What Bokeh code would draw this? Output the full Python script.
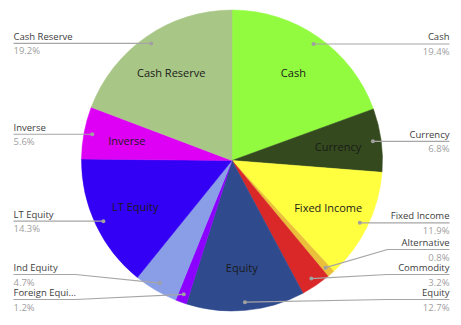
import math
from bokeh.plotting import figure
from bokeh.models import Range1d, ColumnDataSource
from bokeh.core.properties import value
from bokeh.embed import file_html
from bokeh.resources import INLINE

# ---- data ----
categories = ["Cash", "Currency", "Fixed Income", "Alternative", "Commodity", "Equity",
              "Foreign Equity", "Ind Equity", "LT Equity", "Inverse", "Cash Reserve"]
outer_labels = ["Cash", "Currency", "Fixed Income", "Alternative", "Commodity", "Equity",
                "Foreign Equi...", "Ind Equity", "LT Equity", "Inverse", "Cash Reserve"]
shares = [19.4, 6.8, 11.9, 0.8, 3.2, 12.7, 1.2, 4.7, 14.3, 5.6, 19.2]
colors = ["#92FB3F", "#344A1E", "#FFFF3F", "#EABF3A", "#DA2727", "#2F4B8E",
          "#8B00FF", "#8A9EE8", "#3300F5", "#DD00F5", "#A8C686"]

# ---- layout ----
W, H = 461, 325
CX, CY, R = 231.5, 160.0, 150.5      # pixel coords (y down)
R_DOT = 0.945 * R
R_IN = 107.0
LEFT_EDGE, RIGHT_EDGE = 13, 449
LEFT_ELBOW, RIGHT_ELBOW = 75, 387
BOTTOM = 299
SPACING = 25
FONT = value("Open Sans")

total = sum(shares)
starts, ends, mids = [], [], []
c = 0.0
for v in shares:
    starts.append(c / total)
    c += v
    ends.append(c / total)
for s0, s1 in zip(starts, ends):
    mids.append(math.pi * (s0 + s1))   # clockwise from top

def fy(ypx):
    return H - ypx

p = figure(width=W, height=H, x_range=Range1d(0, W), y_range=Range1d(0, H),
           output_backend="svg", toolbar_location=None, min_border=0,
           x_axis_type=None, y_axis_type=None)
p.grid.visible = False
p.outline_line_color = None
p.background_fill_color = "white"

src = ColumnDataSource(dict(
    start=[math.pi / 2 - 2 * math.pi * s for s in starts],
    end=[math.pi / 2 - 2 * math.pi * e for e in ends],
    color=colors,
))
p.wedge(x=CX, y=fy(CY), radius=R, start_angle="start", end_angle="end",
        direction="clock", fill_color="color", line_color="color", line_width=0.5,
        source=src)

# inside labels
ix, iy, it = [], [], []
for cat, v, t in zip(categories, shares, mids):
    if v >= 5:
        ix.append(CX + R_IN * math.sin(t))
        iy.append(fy(CY - R_IN * math.cos(t)))
        it.append(cat)
p.text(x=ix, y=iy, text=it, text_align="center", text_baseline="middle",
       text_font=FONT, text_font_size="11px", text_color="#1a1a1a")

# outside labels with leader lines
items = []
for i, (lab, v, t) in enumerate(zip(outer_labels, shares, mids)):
    dx = CX + R_DOT * math.sin(t)
    dy = CY - R_DOT * math.cos(t)
    side = "right" if math.sin(t) >= 0 else "left"
    items.append(dict(lab=lab, v=v, dx=dx, dy=dy, side=side, ly=dy))

for side in ("left", "right"):
    grp = sorted([it for it in items if it["side"] == side], key=lambda d: d["dy"])
    prev = -1e9
    for d in grp:
        d["ly"] = max(d["dy"], prev + SPACING)
        prev = d["ly"]
    nxt = BOTTOM + SPACING
    for d in reversed(grp):
        d["ly"] = min(d["ly"], nxt - SPACING)
        nxt = d["ly"]

lxs, lys = [], []
dot_x, dot_y = [], []
for d in items:
    if d["side"] == "right":
        xs = [d["dx"], RIGHT_ELBOW, RIGHT_EDGE]
    else:
        xs = [d["dx"], LEFT_ELBOW, LEFT_EDGE]
    ys = [fy(d["dy"]), fy(d["ly"]), fy(d["ly"])]
    lxs.append(xs)
    lys.append(ys)
    dot_x.append(d["dx"])
    dot_y.append(fy(d["dy"]))
p.multi_line(xs=lxs, ys=lys, line_color="#A6A6A6", line_width=1.2)
p.scatter(x=dot_x, y=dot_y, size=4, fill_color="#A0A0A0", line_color=None)

for side, align, xe in (("left", "left", LEFT_EDGE), ("right", "right", RIGHT_EDGE)):
    sel = [d for d in items if d["side"] == side]
    p.text(x=[xe] * len(sel), y=[fy(d["ly"]) + 7 for d in sel], text=[d["lab"] for d in sel],
           text_align=align, text_baseline="middle", text_font=FONT,
           text_font_size="9.5px", text_color="#404040")
    p.text(x=[xe] * len(sel), y=[fy(d["ly"]) - 7.5 for d in sel],
           text=[f"{d['v']:.1f}%" for d in sel],
           text_align=align, text_baseline="middle", text_font=FONT,
           text_font_size="9.5px", text_color="#A0A0A0")

open("out.html", "w").write(file_html(p, INLINE))
